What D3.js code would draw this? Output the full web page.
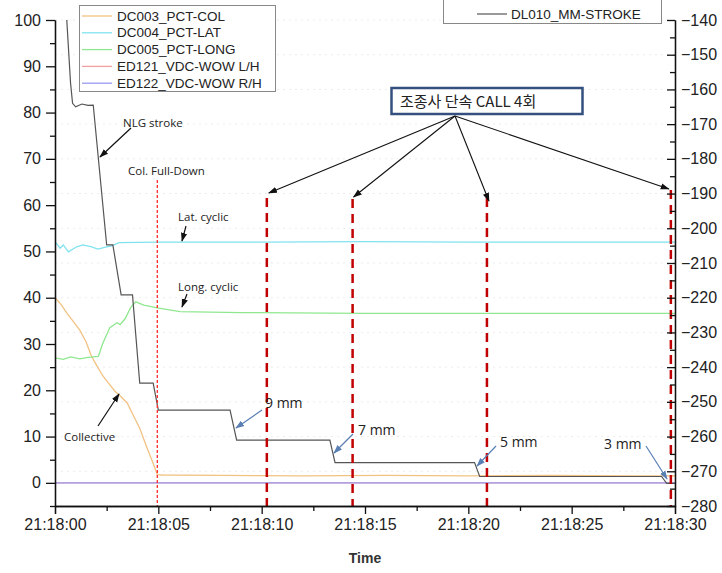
<!DOCTYPE html>
<html><head><meta charset="utf-8">
<script src="https://cdn.jsdelivr.net/npm/d3@7"></script>
<style>
body{margin:0;background:#fff;}
svg{display:block;font-family:"Liberation Sans",Arial,sans-serif;}
</style></head>
<body><svg id="c" width="722" height="573"></svg>
<script>
// ---------- DATA (seconds after 21:18:00, value) ----------
const xTickSeconds = [0,5,10,15,20,25,30];
const leftTicks = [0,10,20,30,40,50,60,70,80,90,100];
const rightTicks = [-280,-270,-260,-250,-240,-230,-220,-210,-200,-190,-180,-170,-160,-150,-140];
const seriesNames = ["DC003_PCT-COL","DC004_PCT-LAT","DC005_PCT-LONG","ED121_VDC-WOW L/H","ED122_VDC-WOW R/H"];
const seriesColors = ["#f2c283","#7fe3ef","#8fe88f","#f0a0a0","#9a9af0"];
const strokeName = "DL010_MM-STROKE";

const colPct = [[0,40],[0.3,38.5],[0.6,36.5],[0.9,34.8],[1.2,33],[1.5,30.5],[1.75,27.5],[2.0,25.5],[2.3,23.2],[2.6,21.5],[2.9,19.8],[3.2,18.6],[3.5,17.2],[3.8,14.5],[4.1,11.8],[4.4,8.2],[4.7,4.8],[4.95,1.8],[5.2,1.7],[8,1.6],[12,1.5],[16,1.6],[20,1.5],[24,1.6],[28,1.5],[30,1.5]];
const latPct = [[0,52.1],[0.25,50.7],[0.4,51.4],[0.65,49.9],[1.05,51.0],[1.35,51.4],[1.78,51.0],[2.07,50.5],[2.5,51.0],[2.75,51.2],[3.1,51.9],[5,52.0],[10,52.0],[15,52.1],[20,52.0],[25,52.0],[30,52.0]];
const longPct = [[0,27],[0.4,26.7],[0.75,27.2],[1.2,26.8],[1.6,27.1],[2.1,27.3],[2.3,30],[2.65,33.5],[3.0,34.6],[3.15,34.2],[3.4,35.5],[3.65,37.8],[3.9,39.1],[4.3,38.4],[4.95,37.8],[6.05,37.0],[9,36.8],[15,36.6],[20,36.6],[30,36.6]];
const wowLH = [[0,0],[30,0]];
const wowRH = [[0,0],[30,0]];
const nlgStroke = [[0.4,-124],[0.57,-140],[0.75,-158],[0.85,-164],[1.0,-165],[1.3,-164.2],[1.6,-164.6],[1.85,-164.5],[2.5,-204.8],[2.8,-204.8],[3.2,-219.2],[3.75,-219.2],[4.1,-244.6],[4.75,-244.6],[5.0,-252.4],[8.47,-252.4],[8.79,-261],[13.3,-261],[13.55,-267.5],[20.3,-267.5],[20.55,-271.5],[29.35,-271.5],[29.6,-273.5],[30,-273.5]];
const callTimes = [10.25, 14.4, 20.9, 29.8];
const colFullDownTime = 4.95;

// ---------- SCALES ----------
const svg = d3.select("#c");
const L = 55, R = 675, T = 20, B = 506;
const base = new Date(2020,0,1,21,18,0).getTime();
const tt = s => new Date(base + s*1000);
const x = d3.scaleTime().domain([tt(0), tt(30)]).range([L, R]);
const yL = d3.scaleLinear().domain([-5,100]).range([B,T]);
const yR = d3.scaleLinear().domain([-280,-140]).range([B,T]);

svg.append("defs").append("clipPath").attr("id","clip")
  .append("rect").attr("x",L).attr("y",T).attr("width",R-L).attr("height",B-T);
const defs = svg.select("defs");
function marker(id,color){
  defs.append("marker").attr("id",id).attr("viewBox","0 0 10 10").attr("refX",9).attr("refY",5)
   .attr("markerWidth",9).attr("markerHeight",9).attr("orient","auto").attr("markerUnits","userSpaceOnUse")
   .append("path").attr("d","M0,1.5 L10,5 L0,8.5 Z").attr("fill",color);
}
marker("ab","#111"); marker("abl","#5a7fb5");

// faint grid
const grid = svg.append("g").attr("stroke","#ececec").attr("stroke-dasharray","2,4");
rightTicks.forEach(v=>grid.append("line").attr("x1",L).attr("x2",R).attr("y1",yR(v)).attr("y2",yR(v)));

const plot = svg.append("g").attr("clip-path","url(#clip)");
const lineL = d3.line().x(d=>x(tt(d[0]))).y(d=>yL(d[1]));
const lineR = d3.line().x(d=>x(tt(d[0]))).y(d=>yR(d[1]));
[[colPct,0],[latPct,1],[longPct,2],[wowLH,3],[wowRH,4]].forEach(([d,i])=>{
  plot.append("path").datum(d).attr("d",lineL).attr("fill","none").attr("stroke",seriesColors[i]).attr("stroke-width",1.3);
});
plot.append("path").datum(nlgStroke).attr("d",lineR).attr("fill","none").attr("stroke","#555").attr("stroke-width",1.2);

// col full-down line
svg.append("line").attr("x1",x(tt(colFullDownTime))).attr("x2",x(tt(colFullDownTime)))
  .attr("y1",180).attr("y2",B).attr("stroke","#ff2a2a").attr("stroke-width",1.3).attr("stroke-dasharray","3,2");
// call lines
const callTop = [198,199,198,190];
callTimes.forEach((s,i)=>{
  svg.append("line").attr("x1",x(tt(s))).attr("x2",x(tt(s))).attr("y1",callTop[i]).attr("y2",B)
   .attr("stroke","#c00000").attr("stroke-width",2.5).attr("stroke-dasharray","9,6");
});

// axes
const fmt = d3.timeFormat("%H:%M:%S");
function styleAxis(g){ g.selectAll("path,line").attr("stroke","#111").attr("stroke-width",1.3);
  g.selectAll("text").attr("fill","#222").style("font-size","16px").style("font-family","'Liberation Sans',Arial,sans-serif"); }
svg.append("g").attr("transform",`translate(0,${B})`)
  .call(d3.axisBottom(x).tickValues(xTickSeconds.map(tt)).tickFormat(fmt).tickSize(8).tickPadding(5))
  .call(styleAxis);
svg.append("g").attr("transform",`translate(0,${B})`)
  .call(d3.axisBottom(x).tickValues(xTickSeconds.slice(0,-1).map(s=>tt(s+2.5))).tickFormat("").tickSize(5).tickSizeOuter(0))
  .call(styleAxis);
svg.append("g").attr("transform",`translate(${L},0)`)
  .call(d3.axisLeft(yL).tickValues(leftTicks).tickSize(9).tickSizeOuter(0).tickPadding(5))
  .call(styleAxis);
svg.append("g").attr("transform",`translate(${L},0)`)
  .call(d3.axisLeft(yL).tickValues(leftTicks.slice(0,-1).map(v=>v+5).concat([-5])).tickFormat("").tickSize(5).tickSizeOuter(0))
  .call(styleAxis);
svg.append("g").attr("transform",`translate(${R},0)`)
  .call(d3.axisRight(yR).tickValues(rightTicks).tickSize(-8).tickSizeOuter(0).tickPadding(6))
  .call(styleAxis);
svg.append("g").attr("transform",`translate(${R},0)`)
  .call(d3.axisRight(yR).tickValues(rightTicks.slice(0,-1).map(v=>v+5)).tickFormat("").tickSize(-5).tickSizeOuter(0))
  .call(styleAxis);
svg.selectAll(".domain").attr("stroke","#111");

svg.append("text").attr("x",(L+R)/2).attr("y",563).attr("text-anchor","middle")
  .style("font-size","14px").style("font-weight","bold").attr("fill","#333").text("Time");

// legend left
const lg = svg.append("g");
lg.append("rect").attr("x",79.5).attr("y",5.5).attr("width",196).attr("height",86).attr("fill","#fff").attr("stroke","#888");
seriesNames.forEach((n,i)=>{
  const yy = 16 + i*16.8;
  lg.append("line").attr("x1",82).attr("x2",112).attr("y1",yy).attr("y2",yy).attr("stroke",seriesColors[i]).attr("stroke-width",1.3);
  lg.append("text").attr("x",117).attr("y",yy+4.5).style("font-size","13.5px").attr("fill","#222").text(n);
});
// legend right
const rg = svg.append("g");
rg.append("rect").attr("x",443.5).attr("y",-5).attr("width",218).attr("height",28.5).attr("fill","#fff").attr("stroke","#888");
rg.append("line").attr("x1",477).attr("x2",507).attr("y1",14).attr("y2",14).attr("stroke","#555").attr("stroke-width",1.2);
rg.append("text").attr("x",511).attr("y",18.5).style("font-size","13.5px").attr("fill","#222").text(strokeName);

// annotations
const ann = svg.append("g").style("font-family","'Open Sans','Noto Sans',sans-serif").attr("fill","#222");
function txt(s,xx,yy,size){ ann.append("text").attr("x",xx).attr("y",yy).style("font-size",size+"px").text(s); }
function arrow(x1,y1,x2,y2,col,m,w){ svg.append("line").attr("x1",x1).attr("y1",y1).attr("x2",x2).attr("y2",y2)
  .attr("stroke",col).attr("stroke-width",w||1.2).attr("marker-end",`url(#${m})`); }
txt("NLG stroke",123,127,11.5);
txt("Col. Full-Down",128,175,11.5);
txt("Lat. cyclic",178,221,11.5);
txt("Long. cyclic",178,291,11.5);
txt("Collective",64,441,11.5);
txt("9 mm",265,408,14);
txt("7 mm",358,435,14);
txt("5 mm",500,447,14);
txt("3 mm",604,449,14);
arrow(131,128,100,157,"#111","ab");
arrow(186,226,182,241,"#111","ab");
arrow(187,294,182,307,"#111","ab");
arrow(98,426,119,394,"#111","ab");
arrow(262,410,236,428,"#5a7fb5","abl");
arrow(353,434,334,453,"#5a7fb5","abl");
arrow(496,446,477,466,"#5a7fb5","abl");
arrow(646,446,667,479,"#5a7fb5","abl");

// callout
svg.append("rect").attr("x",391.5).attr("y",88).attr("width",191).attr("height",26).attr("fill","#fff")
  .attr("stroke","#34507e").attr("stroke-width",2.5);
svg.append("text").attr("x",400).attr("y",107).style("font-family","'Noto Sans CJK KR',sans-serif")
  .style("font-size","15px").attr("fill","#222").text("조종사 단속 CALL 4회");
const cx0 = 455, cy0 = 116;
const callX = callTimes.map(s=>x(tt(s)));
[[callX[0]+2,193],[callX[1]+1,197],[callX[2]+2,201],[callX[3]-2,189]].forEach(p=>arrow(cx0,cy0,p[0],p[1],"#111","ab",1.1));
</script></body></html>
